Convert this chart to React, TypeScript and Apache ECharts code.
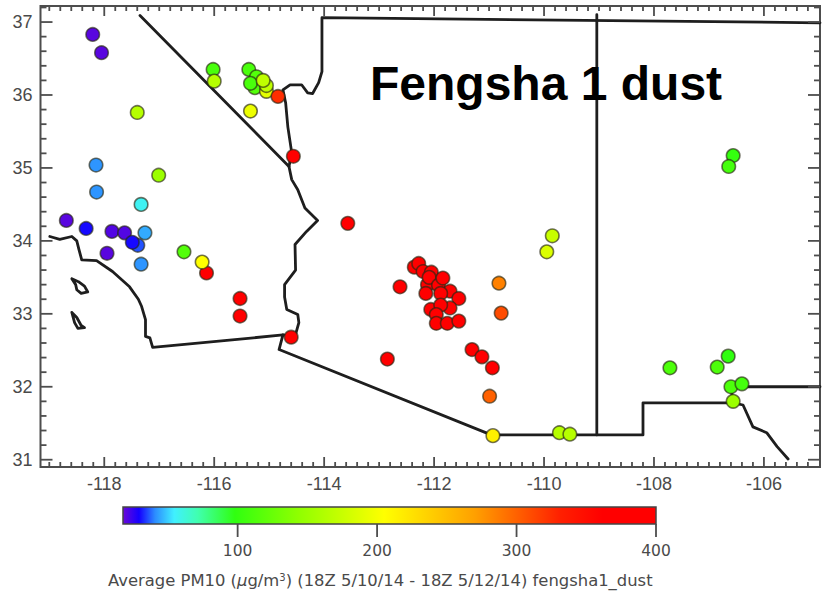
import React, { useEffect, useRef } from "react";
import * as echarts from "echarts";

const siteLon = [-118.21, -118.05, -117.40, -118.15, -118.14, -117.33, -117.01, -118.69, -118.33, -117.86, -117.63, -117.26, -117.39, -117.49, -117.95, -117.33, -116.55, -116.14, -116.22, -115.53, -115.53, -114.60, -116.02, -116.00, -115.37, -115.23, -115.26, -115.34, -115.05, -115.05, -115.11, -115.34, -114.84, -114.56, -113.57, -112.85, -112.36, -112.28, -112.20, -112.05, -112.12, -112.09, -111.92, -111.84, -112.62, -111.71, -112.15, -111.88, -111.55, -112.06, -111.71, -111.88, -111.96, -111.96, -111.76, -111.55, -111.31, -111.13, -110.94, -110.99, -110.93, -109.72, -109.53, -110.82, -110.78, -109.85, -109.95, -107.71, -106.85, -106.65, -106.60, -106.40, -106.56, -106.56, -106.64];
const siteLat = [36.83, 36.58, 35.76, 35.04, 34.67, 34.50, 34.90, 34.28, 34.17, 34.13, 34.11, 34.11, 33.94, 33.98, 33.83, 33.68, 33.85, 33.56, 33.71, 33.21, 32.97, 32.68, 36.35, 36.19, 36.35, 36.25, 36.10, 36.16, 36.05, 36.13, 36.20, 35.78, 35.98, 35.16, 34.24, 32.38, 33.64, 33.69, 33.58, 33.57, 33.40, 33.50, 33.39, 33.49, 33.37, 33.31, 33.28, 33.28, 33.21, 33.06, 33.08, 33.12, 32.99, 32.87, 32.87, 32.90, 32.51, 32.41, 32.26, 31.87, 31.33, 31.37, 31.35, 33.42, 33.01, 34.07, 33.85, 32.26, 32.27, 32.42, 32.00, 32.04, 31.80, 35.17, 35.02];
const sitePm10 = [20, 20, 165, 42, 42, 57, 150, 20, 30, 21, 21, 45, 36, 30, 20, 42, 115, 375, 205, 390, 390, 390, 110, 165, 110, 115, 115, 110, 190, 170, 170, 195, 325, 385, 385, 390, 390, 390, 390, 390, 390, 390, 390, 390, 385, 390, 390, 390, 390, 390, 390, 390, 390, 390, 390, 390, 390, 390, 390, 300, 215, 165, 165, 285, 310, 175, 185, 112, 112, 98, 112, 108, 150, 100, 108];

const coastLine = [[-118.99, 34.06], [-118.81, 34.02], [-118.59, 34.06], [-118.50, 34.0], [-118.46, 33.88], [-118.41, 33.74], [-118.14, 33.73], [-117.85, 33.58], [-117.54, 33.37], [-117.38, 33.2], [-117.32, 33.10], [-117.25, 32.92], [-117.25, 32.69], [-117.17, 32.67], [-117.12, 32.54], [-114.75, 32.71], [-114.82, 32.51], [-110.96, 31.34], [-108.20, 31.34], [-108.20, 31.78], [-106.56, 31.78], [-106.38, 31.75], [-106.20, 31.45], [-105.95, 31.37], [-105.76, 31.18], [-105.56, 31.01]];
const islandA = [[-118.59, 33.48], [-118.47, 33.44], [-118.36, 33.38], [-118.30, 33.30], [-118.42, 33.28], [-118.50, 33.33], [-118.52, 33.40], [-118.59, 33.48]];
const islandB = [[-118.59, 33.02], [-118.50, 32.95], [-118.42, 32.84], [-118.36, 32.81], [-118.48, 32.80], [-118.54, 32.88], [-118.59, 33.02]];
const caNevada = [[-117.35, 37.09], [-114.64, 35.02]];
const riverLine = [[-104.98, 36.99], [-114.04, 37.06], [-114.04, 36.32], [-114.10, 36.17], [-114.21, 36.02], [-114.30, 36.03], [-114.41, 36.14], [-114.62, 36.14], [-114.75, 36.07], [-114.70, 35.89], [-114.66, 35.56], [-114.59, 35.21], [-114.64, 35.02], [-114.59, 34.84], [-114.48, 34.70], [-114.35, 34.45], [-114.12, 34.28], [-114.32, 34.13], [-114.53, 33.95], [-114.52, 33.60], [-114.72, 33.40], [-114.72, 33.23], [-114.68, 33.06], [-114.48, 32.99], [-114.46, 32.88], [-114.53, 32.69], [-114.75, 32.71]];
const azNmLine = [[-109.04, 37.1], [-109.04, 31.34]];
const txNmLine = [[-104.98, 32.0], [-106.60, 32.0], [-106.56, 31.78]];
const borders = [coastLine, islandA, islandB, caNevada, riverLine, azNmLine, txNmLine];

const xTickLabels = [-118, -116, -114, -112, -110, -108, -106];
const yTickLabels = [31, 32, 33, 34, 35, 36, 37];
const barTickLabels = [100, 200, 300, 400];
const xMinorTicks = [-119, -118.8, -118.6, -118.4, -118.2, -117.8, -117.6, -117.4, -117.2, -117, -116.8, -116.6, -116.4, -116.2, -115.8, -115.6, -115.4, -115.2, -115, -114.8, -114.6, -114.4, -114.2, -113.8, -113.6, -113.4, -113.2, -113, -112.8, -112.6, -112.4, -112.2, -111.8, -111.6, -111.4, -111.2, -111, -110.8, -110.6, -110.4, -110.2, -109.8, -109.6, -109.4, -109.2, -109, -108.8, -108.6, -108.4, -108.2, -107.8, -107.6, -107.4, -107.2, -107, -106.8, -106.6, -106.4, -106.2, -105.8, -105.6, -105.4, -105.2];
const yMinorTicks = [31.2, 31.4, 31.6, 31.8, 32.2, 32.4, 32.6, 32.8, 33.2, 33.4, 33.6, 33.8, 34.2, 34.4, 34.6, 34.8, 35.2, 35.4, 35.6, 35.8, 36.2, 36.4, 36.6, 36.8, 37.2];

const colorStops: [number, string][] = [
  [0, "#6a08d8"], [0.03, "#1400ff"], [0.06, "#2c8cff"], [0.096, "#40f0ff"], [0.14, "#40ffb0"],
  [0.21, "#30ff10"], [0.33, "#90ff00"], [0.49, "#ffff00"], [0.66, "#ffa000"], [0.82, "#ff2000"], [0.9, "#ff0000"], [1, "#ff0000"],
];

const FONT = "Liberation Sans";
const BAR_FONT = "DejaVu Sans";
const AXIS = "#4d4d4d";
const TEXT = "#4a4a4a";
const X_MIN = -119.16, X_MAX = -104.98, Y_MIN = 30.9, Y_MAX = 37.22;
const BAR_MIN = 17.8, BAR_MAX = 400;
const FRAME_W = 779.5, FRAME_H = 461;
const BAR_H = 17, BAR_TICK = 13;

function rgb(h: string) {
  return [1, 3, 5].map((i) => parseInt(h.slice(i, i + 2), 16));
}
function colorAt(v: number) {
  const t = Math.min(1, Math.max(0, (v - BAR_MIN) / (BAR_MAX - BAR_MIN)));
  let i = 0;
  while (i < colorStops.length - 2 && colorStops[i + 1][0] < t) i++;
  const [t0, c0] = colorStops[i];
  const [t1, c1] = colorStops[i + 1];
  const f = (t - t0) / (t1 - t0);
  const a = rgb(c0);
  const b = rgb(c1);
  return "rgb(" + a.map((x, j) => Math.round(x + (b[j] - x) * f)).join(",") + ")";
}

function seg(x1: number, y1: number, x2: number, y2: number, lineWidth = 1.8) {
  return { type: "line", z: 21, silent: true, shape: { x1, y1, x2, y2 }, style: { stroke: AXIS, lineWidth } };
}

export default function App() {
  const ref = useRef<HTMLDivElement>(null);
  useEffect(() => {
    const chart = echarts.init(ref.current!, undefined, { renderer: "svg" });
    chart.setOption({
      animation: false,
      backgroundColor: "#ffffff",
      title: [
        {
          text: "Fengsha 1 dust", left: 365, top: 54,
          textStyle: { fontFamily: FONT, fontSize: 48, fontWeight: "bold", color: "#000000" },
        },
        {
          text: "{a|Average PM10 (}{i|µ}{a|g/m}{s|3}{a|) (18Z 5/10/14 - 18Z 5/12/14) fengsha1_dust}",
          left: 103, top: 567,
          textStyle: {
            fontWeight: "normal",
            rich: {
              a: { fontFamily: BAR_FONT, fontSize: 16.4, color: TEXT, fontWeight: "normal" },
              i: { fontFamily: BAR_FONT, fontSize: 16.4, color: TEXT, fontStyle: "italic", fontWeight: "normal" },
              s: { fontFamily: BAR_FONT, fontSize: 10, color: TEXT, verticalAlign: "top", fontWeight: "normal" },
            },
          },
        },
      ],
      grid: [
        { left: 40.5, top: 6, width: FRAME_W, height: FRAME_H, show: true, borderColor: AXIS, borderWidth: 2, backgroundColor: "transparent" },
        { left: 123, top: 507, width: 533, height: BAR_H + BAR_TICK, show: false },
      ],
      xAxis: [
        {
          type: "value", gridIndex: 0, min: X_MIN, max: X_MAX, position: "bottom", splitLine: { show: false },
          axisLine: { show: false, onZero: false }, axisTick: { show: false },
          axisLabel: { show: true, customValues: xTickLabels, margin: 8, color: TEXT, fontFamily: FONT, fontSize: 18 },
        },
        {
          type: "value", gridIndex: 1, min: BAR_MIN, max: BAR_MAX, position: "bottom", splitLine: { show: false },
          axisLine: { show: false, onZero: false }, axisTick: { show: false },
          axisLabel: { show: true, customValues: barTickLabels, margin: 6, color: TEXT, fontFamily: BAR_FONT, fontSize: 15.5 },
        },
      ],
      yAxis: [
        {
          type: "value", gridIndex: 0, min: Y_MIN, max: Y_MAX, position: "left", splitLine: { show: false },
          axisLine: { show: false, onZero: false }, axisTick: { show: false },
          axisLabel: { show: true, customValues: yTickLabels, margin: 8, color: TEXT, fontFamily: FONT, fontSize: 18 },
        },
        { type: "value", gridIndex: 1, min: -BAR_TICK, max: BAR_H, show: false },
      ],
      series: [
        ...borders.map((b) => ({
          type: "line", xAxisIndex: 0, yAxisIndex: 0, data: b, symbol: "none", z: 3,
          lineStyle: { color: "#1e1e1e", width: 2.8, cap: "round", join: "round" },
        })),
        {
          type: "scatter", xAxisIndex: 0, yAxisIndex: 0, z: 4, symbolSize: 13.5,
          itemStyle: {
            color: (p: any) => colorAt(p.value[2]),
            borderColor: "rgba(40,40,20,0.65)", borderWidth: 1.6, opacity: 1,
          },
          data: siteLon.map((lon, i) => [lon, siteLat[i], sitePm10[i]]),
        },
      ],
    });

    // Tick marks placed through the axes' own scales.
    const main = { xAxisIndex: 0, yAxisIndex: 0 };
    const bar = { xAxisIndex: 1, yAxisIndex: 1 };
    const xEdge = (values: number[], len: number) =>
      values.flatMap((v) => {
        const b = chart.convertToPixel(main, [v, Y_MIN]) as number[];
        const t = chart.convertToPixel(main, [v, Y_MAX]) as number[];
        return [seg(b[0], b[1], b[0], b[1] - len), seg(t[0], t[1], t[0], t[1] + len)];
      });
    const yEdge = (values: number[], len: number) =>
      values.flatMap((v) => {
        const l = chart.convertToPixel(main, [X_MIN, v]) as number[];
        const r = chart.convertToPixel(main, [X_MAX, v]) as number[];
        return [seg(l[0], l[1], l[0] + len, l[1]), seg(r[0], r[1], r[0] - len, r[1])];
      });
    const barEdge = barTickLabels.map((v) => {
      const p = chart.convertToPixel(bar, [v, 0]) as number[];
      return seg(p[0], p[1], p[0], p[1] + BAR_TICK);
    });

    chart.setOption({
      graphic: {
        elements: [
          {
            type: "rect", z: 20, silent: true, shape: { x: 123, y: 507, width: 533, height: BAR_H },
            style: {
              stroke: "#444444", lineWidth: 1.5,
              fill: new echarts.graphic.LinearGradient(0, 0, 1, 0, colorStops.map(([offset, color]) => ({ offset, color }))),
            },
          },
          ...xEdge(xMinorTicks, 5),
          ...xEdge(xTickLabels, 10),
          ...yEdge(yMinorTicks, 6),
          ...yEdge(yTickLabels, 12),
          ...barEdge,
        ],
      },
    });
    return () => chart.dispose();
  }, []);
  return <div ref={ref} style={{ position: "absolute", left: 0, top: 0, width: 827, height: 593 }} />;
}
